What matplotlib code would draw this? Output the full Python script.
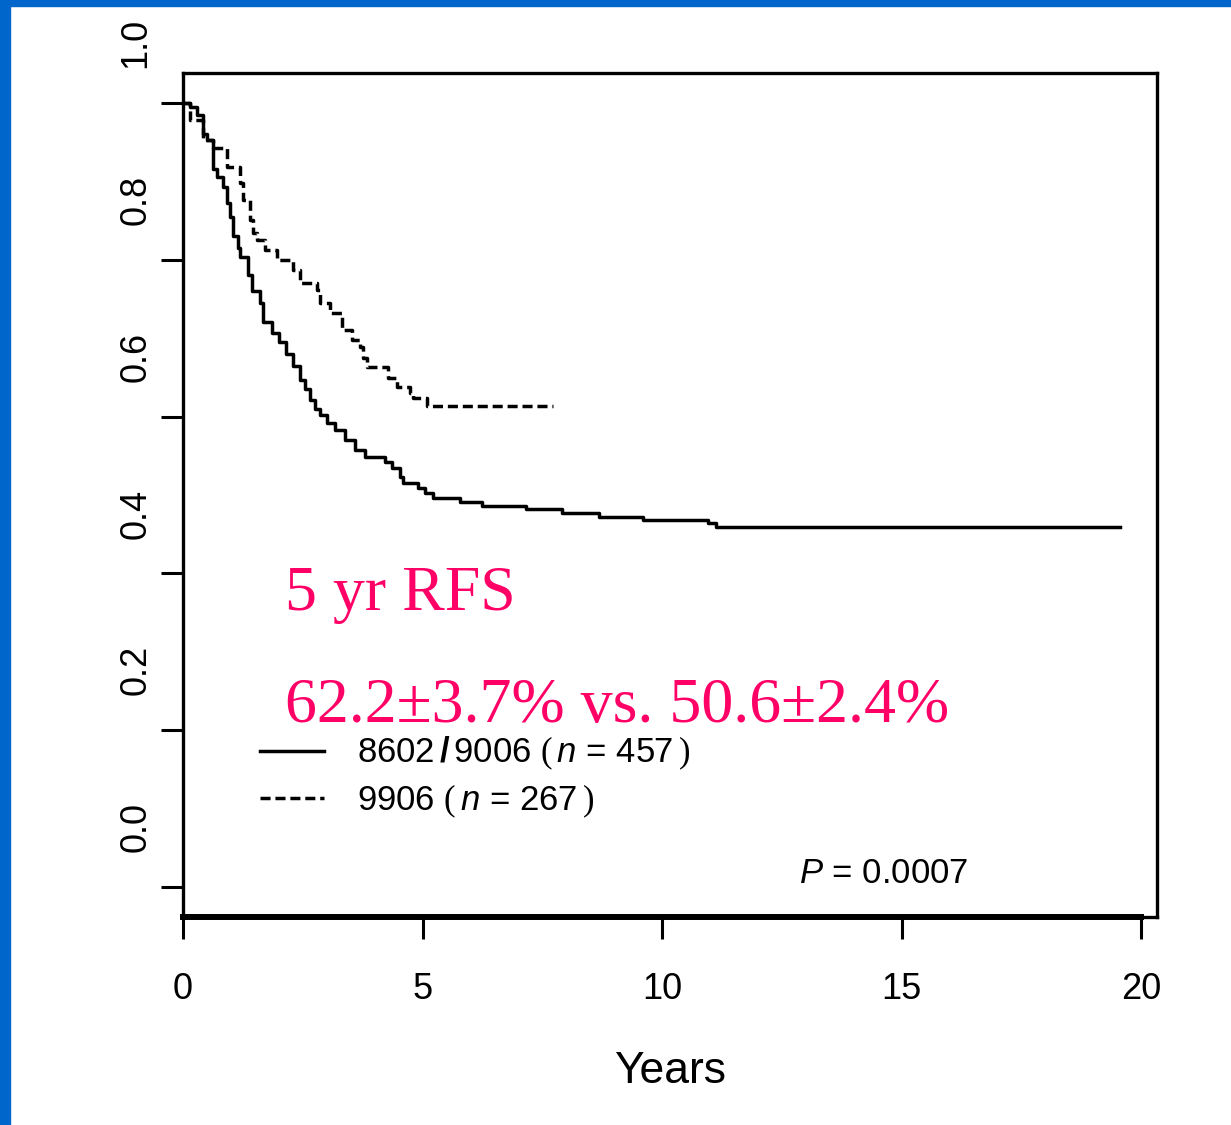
import matplotlib
matplotlib.use('Agg')
import matplotlib.pyplot as plt
from matplotlib.patches import Rectangle
from matplotlib.transforms import ScaledTranslation

plt.rcParams['font.family'] = ['Liberation Sans', 'DejaVu Sans']
plt.rcParams['mathtext.fontset'] = 'custom'
plt.rcParams['mathtext.rm'] = 'Liberation Sans'
plt.rcParams['mathtext.it'] = 'Liberation Sans:italic'
plt.rcParams['mathtext.bf'] = 'Liberation Sans:bold'
plt.rcParams['mathtext.sf'] = 'Liberation Serif'

# relapse-free survival, 8602/9006 (solid)
solid_t = [0, 0.15, 0.30, 0.42, 0.50, 0.63, 0.72, 0.83, 0.92, 0.98, 1.05, 1.15, 1.20,
           1.35, 1.45, 1.60, 1.68, 1.85, 2.00, 2.15, 2.30, 2.44, 2.55, 2.65, 2.75, 2.86,
           3.00, 3.17, 3.38, 3.59, 3.80, 4.22, 4.36, 4.53, 4.59, 4.91, 5.05, 5.22, 5.78,
           6.24, 7.16, 7.91, 8.68, 9.60, 10.96, 11.13, 19.56]
solid_s = [1.000, 0.995, 0.985, 0.960, 0.952, 0.915, 0.905, 0.893, 0.872, 0.855, 0.830,
           0.815, 0.804, 0.780, 0.760, 0.745, 0.720, 0.707, 0.695, 0.680, 0.665, 0.647,
           0.635, 0.621, 0.610, 0.602, 0.592, 0.583, 0.570, 0.557, 0.548, 0.542, 0.534,
           0.523, 0.515, 0.509, 0.503, 0.496, 0.491, 0.486, 0.482, 0.477, 0.472, 0.468,
           0.464, 0.459, 0.459]

# 9906 (dashed)
dash_t = [0, 0.15, 0.42, 0.63, 0.92, 1.19, 1.25, 1.40, 1.46, 1.54, 1.71, 1.96, 2.30,
          2.44, 2.80, 2.86, 3.07, 3.32, 3.53, 3.70, 3.76, 3.84, 4.28, 4.47, 4.74, 4.80,
          5.09, 7.72]
dash_s = [1.000, 0.978, 0.953, 0.943, 0.918, 0.898, 0.876, 0.851, 0.834, 0.825, 0.812,
          0.800, 0.787, 0.770, 0.761, 0.745, 0.732, 0.710, 0.698, 0.689, 0.675, 0.663,
          0.649, 0.638, 0.630, 0.624, 0.614, 0.614]

x_ticks = [0, 5, 10, 15, 20]
y_ticks = [0.0, 0.2, 0.4, 0.6, 0.8, 1.0]
y_labels = ['0.0', '0.2', '0.4', '0.6', '0.8', '1.0']

label_solid = r'8602$\,\mathbf{/}\,$9006 $\mathsf{(}\,\mathit{n}$ = 457$\,\mathsf{)}$'
label_dash = r'9906 $\mathsf{(}\,\mathit{n}$ = 267$\,\mathsf{)}$'
pink = '#FF0066'

fig = plt.figure(figsize=(12.31, 11.25), dpi=100)
fig.patches.append(Rectangle((0, 0), 10 / 1231, 1, transform=fig.transFigure,
                             color='#0066CC', zorder=0))
fig.patches.append(Rectangle((0, 1 - 6 / 1125), 1, 6 / 1125, transform=fig.transFigure,
                             color='#0066CC', zorder=0))

ax = fig.add_axes([183 / 1231, 1 - 917 / 1125, 974 / 1231, 844 / 1125])
ax.step(solid_t, solid_s, where='post', color='k', lw=2.5, label=label_solid)
ax.step(dash_t, dash_s, where='post', color='k', lw=2.5, ls=(0, (2.9, 1.4)),
        label=label_dash)

ax.set_xlim(0, 20.33)
ax.set_ylim(-0.038, 1.038)
ax.set_xticks(x_ticks)
ax.set_yticks(y_ticks)
ax.set_yticklabels(y_labels, rotation=90, va='center')

for s in ['left', 'top', 'right']:
    ax.spines[s].set_linewidth(2.4)
ax.spines['bottom'].set_bounds(0, 20)
ax.spines['bottom'].set_linewidth(4.3)
ax.axhline(-0.038, color='k', lw=2.4, clip_on=False)

ax.tick_params(axis='both', length=15.5, width=2.2, labelsize=26)
ax.tick_params(axis='x', pad=24)
ax.tick_params(axis='y', pad=6)
shift = ScaledTranslation(0, 0.6, fig.dpi_scale_trans)
for lab in ax.get_yticklabels():
    lab.set_transform(lab.get_transform() + shift)

ax.set_xlabel('Years', fontsize=32, labelpad=32)

ax.text(2.13, 0.353, '5 yr RFS', fontsize=46, family='Liberation Serif', color=pink,
        va='baseline')
ax.text(2.13, 0.21, '62.2\u00b13.7% vs. 50.6\u00b12.4%', fontsize=46,
        family='Liberation Serif', color=pink, va='baseline')
ax.text(12.86, 0.017, r'$P$ = 0.0007', fontsize=25, va='center')

ax.legend(loc='upper left', bbox_to_anchor=(1.61, 0.194), bbox_transform=ax.transData,
          frameon=False, fontsize=25, handlelength=1.85, handletextpad=0.95,
          borderpad=0, borderaxespad=0, labelspacing=0.3)

fig.savefig('out.png', dpi=100)
plt.close(fig)
